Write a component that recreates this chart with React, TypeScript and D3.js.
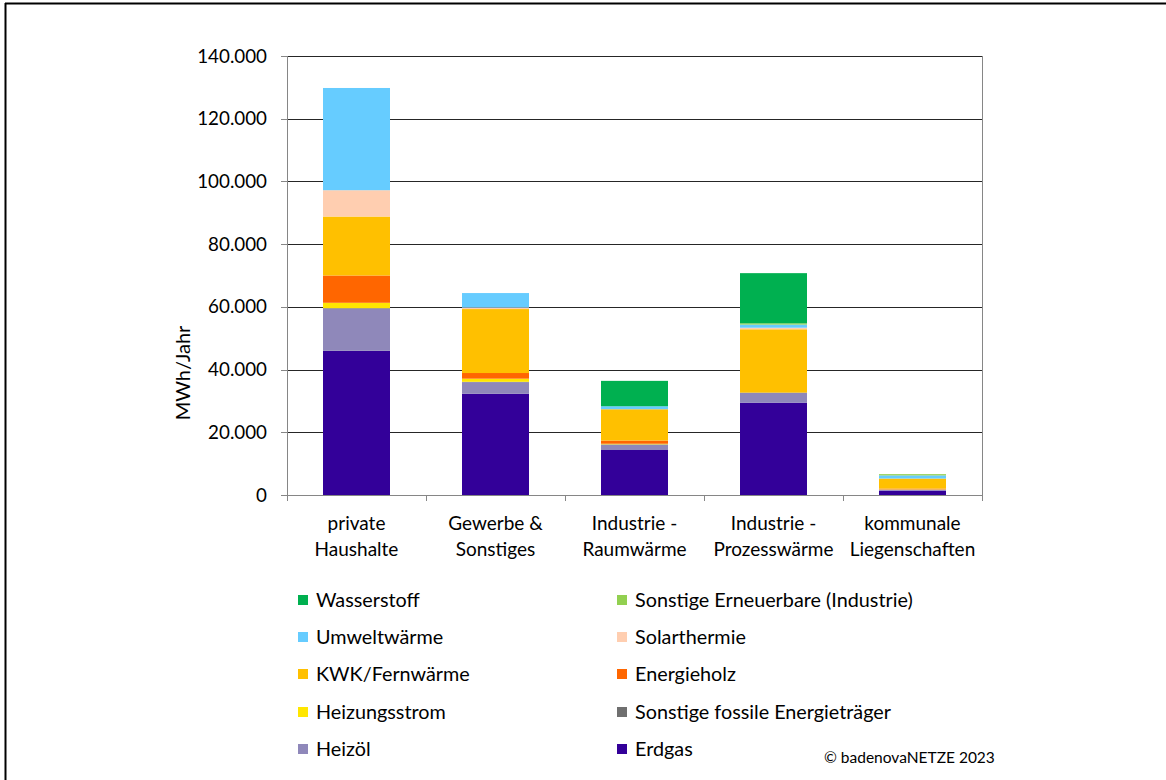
import React from "react";
import * as d3 from "d3";

const categories = [
  ["private", "Haushalte"],
  ["Gewerbe &", "Sonstiges"],
  ["Industrie -", "Raumwärme"],
  ["Industrie -", "Prozesswärme"],
  ["kommunale", "Liegenschaften"],
];

// stacking order bottom -> top
const seriesNames = [
  "Erdgas",
  "Heizöl",
  "Sonstige fossile Energieträger",
  "Heizungsstrom",
  "Energieholz",
  "KWK/Fernwärme",
  "Solarthermie",
  "Umweltwärme",
  "Sonstige Erneuerbare (Industrie)",
  "Wasserstoff",
];
const seriesColors = [
  "#330099",
  "#8F88BA",
  "#6F6F6F",
  "#FFE600",
  "#FF6600",
  "#FFC000",
  "#FFCEB0",
  "#66CCFF",
  "#92D050",
  "#00B050",
];

const erdgas = [46000, 32300, 14350, 29450, 1400];
const heizoel = [13400, 3700, 1700, 3100, 300];
const sonstigeFossile = [200, 100, 100, 100, 0];
const heizungsstrom = [1700, 1000, 200, 0, 100];
const energieholz = [8700, 1800, 1000, 0, 250];
const kwk = [18800, 20400, 10000, 20200, 3200];
const solarthermie = [8400, 500, 0, 500, 0];
const umweltwaerme = [32600, 4600, 950, 1000, 1000];
const sonstigeErneuerbare = [0, 0, 0, 400, 400];
const wasserstoff = [0, 0, 8100, 16000, 0];

const seriesValues = [
  erdgas,
  heizoel,
  sonstigeFossile,
  heizungsstrom,
  energieholz,
  kwk,
  solarthermie,
  umweltwaerme,
  sonstigeErneuerbare,
  wasserstoff,
];

const yTicks = [0, 20000, 40000, 60000, 80000, 100000, 120000, 140000];
const yTickLabels = ["0", "20.000", "40.000", "60.000", "80.000", "100.000", "120.000", "140.000"];

// legend layout: two columns, order as in the reference
const legendLeft = ["Wasserstoff", "Umweltwärme", "KWK/Fernwärme", "Heizungsstrom", "Heizöl"];
const legendRight = [
  "Sonstige Erneuerbare (Industrie)",
  "Solarthermie",
  "Energieholz",
  "Sonstige fossile Energieträger",
  "Erdgas",
];

const FONT = "Lato, 'Open Sans', sans-serif";

export default function App() {
  const W = 1166;
  const H = 780;
  const plot = { left: 287, right: 982, top: 56, bottom: 495 };

  const x = d3
    .scaleBand<number>()
    .domain(categories.map((_, i) => i))
    .range([plot.left, plot.right])
    .paddingInner(0)
    .paddingOuter(0);
  const barW = 67;
  const y = d3.scaleLinear().domain([0, 140000]).range([plot.bottom, plot.top]);

  const rows = categories.map((_, i) => {
    const r: Record<string, number> = {};
    seriesNames.forEach((s, k) => (r[s] = seriesValues[k][i]));
    return r;
  });
  const stack = d3.stack<Record<string, number>>().keys(seriesNames);
  const stacked = stack(rows);

  const colorOf = (name: string) => seriesColors[seriesNames.indexOf(name)];
  const legendRowsY = [600, 637, 674, 712, 749];

  return (
    <svg
      width={W}
      height={H}
      style={{ position: "absolute", left: 0, top: 0, background: "#fff" }}
      fontFamily={FONT}
    >
      <rect x={0} y={0} width={W} height={H} fill="#fff" />
      {/* outer frame */}
      <line x1={5} y1={3.5} x2={W} y2={3.5} stroke="#000" strokeWidth={2} />
      <line x1={5.5} y1={3} x2={5.5} y2={H} stroke="#000" strokeWidth={2} />

      {/* gridlines */}
      {yTicks.slice(1).map((t) => (
        <line
          key={t}
          x1={plot.left}
          x2={plot.right}
          y1={Math.round(y(t)) + 0.5}
          y2={Math.round(y(t)) + 0.5}
          stroke="#262626"
          strokeWidth={1}
        />
      ))}

      {/* bars */}
      {stacked.map((layer) => (
        <g key={layer.key} fill={colorOf(layer.key)}>
          {layer.map((d, i) => {
            const h = y(d[0]) - y(d[1]);
            if (h <= 0) return null;
            return (
              <rect
                key={i}
                x={(x(i) as number) + x.bandwidth() / 2 - barW / 2}
                y={y(d[1])}
                width={barW}
                height={h}
              />
            );
          })}
        </g>
      ))}

      {/* right border of plot */}
      <line x1={plot.right + 0.5} x2={plot.right + 0.5} y1={plot.top} y2={plot.bottom} stroke="#868686" />

      {/* y axis */}
      <line x1={plot.left + 0.5} x2={plot.left + 0.5} y1={plot.top} y2={plot.bottom} stroke="#868686" />
      {yTicks.map((t, i) => (
        <g key={t}>
          <line
            x1={plot.left - 6}
            x2={plot.left}
            y1={Math.round(y(t)) + 0.5}
            y2={Math.round(y(t)) + 0.5}
            stroke="#868686"
          />
          <text
            x={267}
            y={y(t)}
            dy="0.35em"
            textAnchor="end"
            fontSize={18.8}
            fill="#000"
          >
            {yTickLabels[i]}
          </text>
        </g>
      ))}

      {/* x axis */}
      <line x1={plot.left} x2={plot.right + 1} y1={plot.bottom + 0.5} y2={plot.bottom + 0.5} stroke="#868686" />
      {categories.map((_, i) => (
        <line
          key={"t" + i}
          x1={Math.round(x(i) as number) + 0.5}
          x2={Math.round(x(i) as number) + 0.5}
          y1={plot.bottom}
          y2={plot.bottom + 6}
          stroke="#868686"
        />
      ))}
      <line
        x1={plot.right + 0.5}
        x2={plot.right + 0.5}
        y1={plot.bottom}
        y2={plot.bottom + 6}
        stroke="#868686"
      />
      {categories.map((c, i) => (
        <text
          key={"c" + i}
          x={(x(i) as number) + x.bandwidth() / 2}
          textAnchor="middle"
          fontSize={19}
          fill="#000"
        >
          <tspan x={(x(i) as number) + x.bandwidth() / 2} y={530}>
            {c[0]}
          </tspan>
          <tspan x={(x(i) as number) + x.bandwidth() / 2} y={556}>
            {c[1]}
          </tspan>
        </text>
      ))}

      {/* y title */}
      <text
        transform={`translate(190, 373) rotate(-90)`}
        textAnchor="middle"
        fontSize={20}
        fill="#000"
      >
        MWh/Jahr
      </text>

      {/* legend */}
      {legendLeft.map((name, r) => (
        <g key={name}>
          <rect x={298} y={legendRowsY[r] - 5} width={10} height={10} fill={colorOf(name)} />
          <text x={316} y={legendRowsY[r]} dy="0.35em" fontSize={19.8} fill="#000">
            {name}
          </text>
        </g>
      ))}
      {legendRight.map((name, r) => (
        <g key={name}>
          <rect x={617} y={legendRowsY[r] - 5} width={10} height={10} fill={colorOf(name)} />
          <text x={635} y={legendRowsY[r]} dy="0.35em" fontSize={19.8} fill="#000">
            {name}
          </text>
        </g>
      ))}

      <text x={824} y={763} fontSize={15.5} fill="#000">
        © badenovaNETZE 2023
      </text>
    </svg>
  );
}
